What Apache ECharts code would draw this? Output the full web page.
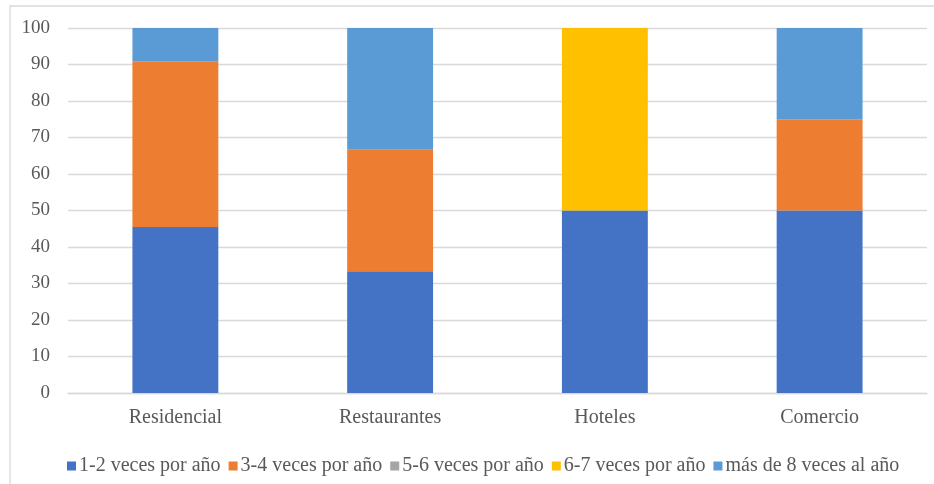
<!DOCTYPE html>
<html><head><meta charset="utf-8">
<script src="https://cdn.jsdelivr.net/npm/echarts@6/dist/echarts.min.js"></script>
<style>html,body{margin:0;padding:0;background:#fff}#c{width:934px;height:484px}</style>
</head><body><div id="c"></div>
<script>
const categories = ['Residencial', 'Restaurantes', 'Hoteles', 'Comercio'];
const seriesNames = ['1-2 veces por año', '3-4 veces por año', '5-6 veces por año', '6-7 veces por año', 'más de 8 veces al año'];
const s1 = [45.45, 33.33, 50, 50];
const s2 = [45.45, 33.33, 0, 25];
const s3 = [0, 0, 0, 0];
const s4 = [0, 0, 50, 0];
const s5 = [9.1, 33.34, 0, 25];
const yTicks = [0, 100, 10];
const colors = ['#4472C4', '#ED7D31', '#A5A5A5', '#FFC000', '#5B9BD5'];

const values = [s1, s2, s3, s4, s5];
const chart = echarts.init(document.getElementById('c'));
const font = '"Liberation Serif", "Times New Roman", serif';
chart.setOption({
  animation: false,
  color: colors,
  textStyle: { fontFamily: font },
  graphic: [{
    type: 'rect', shape: { x: 10, y: 6, width: 940, height: 500 },
    style: { fill: 'none', stroke: '#d9d9d9', lineWidth: 1.3 }, silent: true
  }],
  grid: { left: 68, right: 7, top: 28, bottom: 91, containLabel: false },
  legend: {
    top: 451, left: 62, itemWidth: 9, itemHeight: 9, itemGap: 8,
    icon: 'rect',
    textStyle: { fontFamily: font, fontSize: 20, color: '#595959', padding: [0, 0, 0, -2] },
    data: seriesNames
  },
  xAxis: {
    type: 'category', data: categories,
    axisLine: { lineStyle: { color: '#d9d9d9', width: 1.3 } },
    axisTick: { show: false },
    axisLabel: { fontFamily: font, fontSize: 20, color: '#595959', margin: 15 }
  },
  yAxis: {
    type: 'value', min: yTicks[0], max: yTicks[1], interval: yTicks[2],
    axisLine: { show: false }, axisTick: { show: false },
    splitLine: { lineStyle: { color: '#d9d9d9', width: 1.3 } },
    axisLabel: { fontFamily: font, fontSize: 19, color: '#595959', margin: 18 }
  },
  series: seriesNames.map((n, i) => ({
    name: n, type: 'bar', stack: 'total', data: values[i], barWidth: '40%',
    itemStyle: { color: colors[i], borderColor: '#fff', borderWidth: 0 }
  }))
});
</script></body></html>
